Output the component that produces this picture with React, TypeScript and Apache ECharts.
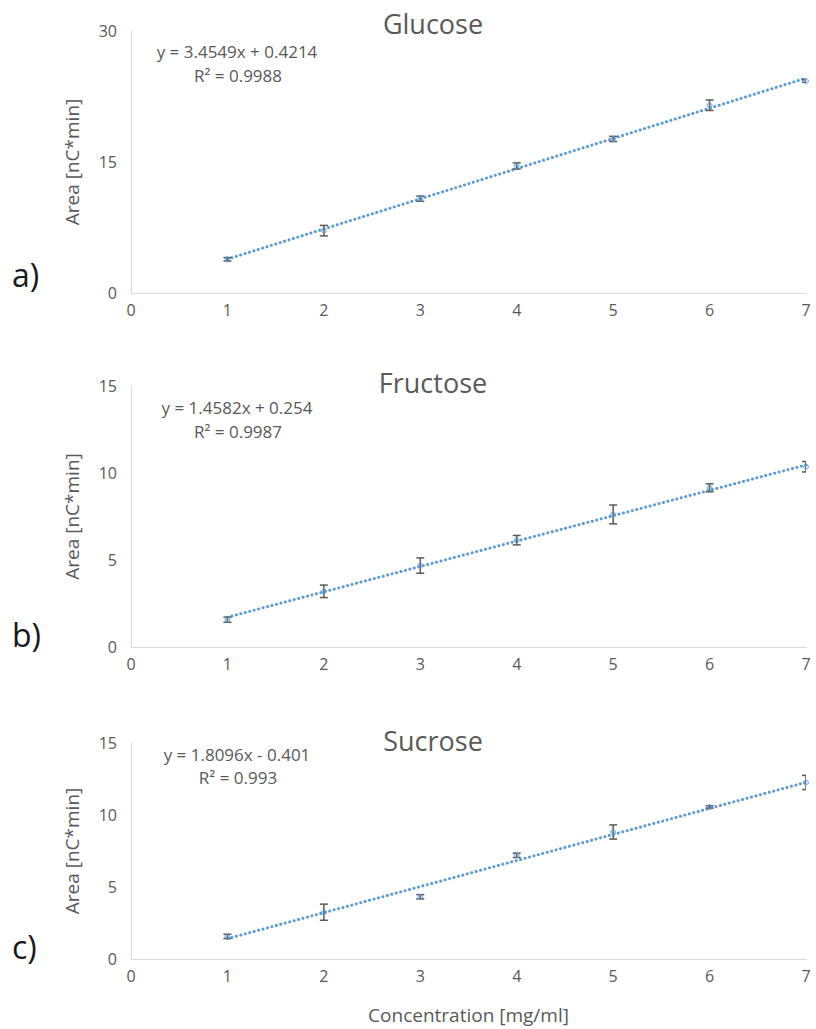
import React, { useEffect, useRef } from "react";
import * as echarts from "echarts";

const xValues = [1, 2, 3, 4, 5, 6, 7];
const xTicks = [0, 1, 2, 3, 4, 5, 6, 7];

const panelNames = ["Glucose", "Fructose", "Sucrose"];
const panelLetters = ["a)", "b)", "c)"];

const glucoseMean = [3.86, 7.14, 10.8, 14.55, 17.64, 21.5, 24.28];
const glucoseErr = [0.2, 0.6, 0.3, 0.35, 0.3, 0.6, 0.15];
const fructoseMean = [1.57, 3.2, 4.68, 6.14, 7.62, 9.15, 10.36];
const fructoseErr = [0.15, 0.36, 0.44, 0.27, 0.54, 0.23, 0.3];
const sucroseMean = [1.57, 3.25, 4.32, 7.2, 8.82, 10.56, 12.26];
const sucroseErr = [0.15, 0.56, 0.15, 0.15, 0.49, 0.08, 0.49];

const slopes = [3.4549, 1.4582, 1.8096];
const intercepts = [0.4214, 0.254, -0.401];
const equations = ["y = 3.4549x + 0.4214", "y = 1.4582x + 0.254", "y = 1.8096x - 0.401"];
const rSquared = ["R² = 0.9988", "R² = 0.9987", "R² = 0.993"];

const yMax = [30, 15, 15];
const yInterval = [15, 5, 5];

const FONT = "'Open Sans', 'Noto Sans', sans-serif";
const TXT = "#595959";
const AXIS = "#d9d9d9";
const BLUE = "#5b9bd5";

export default function App() {
  const ref = useRef<HTMLDivElement>(null);
  useEffect(() => {
    if (!ref.current) return;
    const chart = echarts.init(ref.current, null, { renderer: "svg" });
    const means = [glucoseMean, fructoseMean, sucroseMean];
    const errs = [glucoseErr, fructoseErr, sucroseErr];
    const grids = [
      { left: 131, top: 31, width: 675, height: 262 },
      { left: 131, top: 386, width: 675, height: 261 },
      { left: 131, top: 743, width: 675, height: 216 },
    ];
    const titleY = [23, 382, 740];
    const eqY = [51, 407, 754];
    const r2Y = [75, 431, 777];
    const letterY = [274, 634, 946];

    const xAxes = grids.map((_, i) => ({
      type: "value",
      gridIndex: i,
      min: xTicks[0],
      max: xTicks[xTicks.length - 1],
      interval: 1,
      axisLine: { show: true, lineStyle: { color: AXIS, width: 1 } },
      axisTick: { show: false },
      splitLine: { show: false },
      axisLabel: { color: TXT, fontSize: 16, fontFamily: FONT, margin: 9 },
      name: i === 2 ? "Concentration [mg/ml]" : "",
      nameLocation: "middle",
      nameGap: 46,
      nameTextStyle: { color: TXT, fontSize: 19, fontFamily: FONT },
    }));
    const yAxes = grids.map((_, i) => ({
      type: "value",
      gridIndex: i,
      min: 0,
      max: yMax[i],
      interval: yInterval[i],
      axisLine: { show: true, lineStyle: { color: AXIS, width: 1 } },
      axisTick: { show: false },
      splitLine: { show: false },
      axisLabel: { color: TXT, fontSize: 16, fontFamily: FONT, margin: 14 },
      name: "Area [nC*min]",
      nameLocation: "middle",
      nameRotate: 90,
      nameGap: 50,
      nameTextStyle: { color: TXT, fontSize: 19, fontFamily: FONT },
    }));

    const series: any[] = [];
    grids.forEach((_, i) => {
      const m = means[i];
      const e = errs[i];
      series.push({
        type: "line",
        xAxisIndex: i,
        yAxisIndex: i,
        data: [1, 7].map((x) => [x, slopes[i] * x + intercepts[i]]),
        showSymbol: false,
        symbol: "none",
        lineStyle: { color: BLUE, width: 3, type: [0.1, 4.5], cap: "round" },
        z: 2,
      });
      series.push({
        type: "custom",
        xAxisIndex: i,
        yAxisIndex: i,
        clip: true,
        data: xValues.map((x, k) => [x, m[k] - e[k], m[k] + e[k]]),
        renderItem: (params: any, api: any) => {
          const lo = api.coord([api.value(0), api.value(1)]);
          const hi = api.coord([api.value(0), api.value(2)]);
          const hw = 4;
          const style = { stroke: TXT, lineWidth: 1.5, fill: "none" };
          return {
            type: "group",
            children: [
              { type: "line", shape: { x1: lo[0], y1: lo[1], x2: hi[0], y2: hi[1] }, style },
              { type: "line", shape: { x1: lo[0] - hw, y1: lo[1], x2: lo[0] + hw, y2: lo[1] }, style },
              { type: "line", shape: { x1: hi[0] - hw, y1: hi[1], x2: hi[0] + hw, y2: hi[1] }, style },
            ],
          };
        },
        z: 3,
      });
      series.push({
        type: "scatter",
        xAxisIndex: i,
        yAxisIndex: i,
        data: xValues.map((x, k) => [x, m[k]]),
        symbol: "circle",
        symbolSize: 5,
        itemStyle: { color: "rgba(91,155,213,0.35)", borderColor: BLUE, borderWidth: 1 },
        z: 4,
      });
    });

    const graphics: any[] = [];
    grids.forEach((_, i) => {
      graphics.push({
        type: "text",
        x: 433,
        y: titleY[i],
        style: { text: panelNames[i], fill: TXT, font: `27px ${FONT}`, textAlign: "center", textVerticalAlign: "middle" },
      });
      graphics.push({
        type: "text",
        x: 237,
        y: eqY[i],
        style: { text: equations[i], fill: TXT, font: `17px ${FONT}`, textAlign: "center", textVerticalAlign: "middle" },
      });
      graphics.push({
        type: "text",
        x: 238,
        y: r2Y[i],
        style: { text: rSquared[i], fill: TXT, font: `17px ${FONT}`, textAlign: "center", textVerticalAlign: "middle" },
      });
      graphics.push({
        type: "text",
        x: 12,
        y: letterY[i],
        style: { text: panelLetters[i], fill: "#1a1a1a", font: `32px ${FONT}`, textAlign: "left", textVerticalAlign: "middle" },
      });
    });

    chart.setOption({
      animation: false,
      backgroundColor: "#ffffff",
      grid: grids,
      xAxis: xAxes,
      yAxis: yAxes,
      series,
      graphic: graphics,
    });
    return () => chart.dispose();
  }, []);
  return <div ref={ref} style={{ position: "absolute", left: 0, top: 0, width: 816, height: 1029 }} />;
}
